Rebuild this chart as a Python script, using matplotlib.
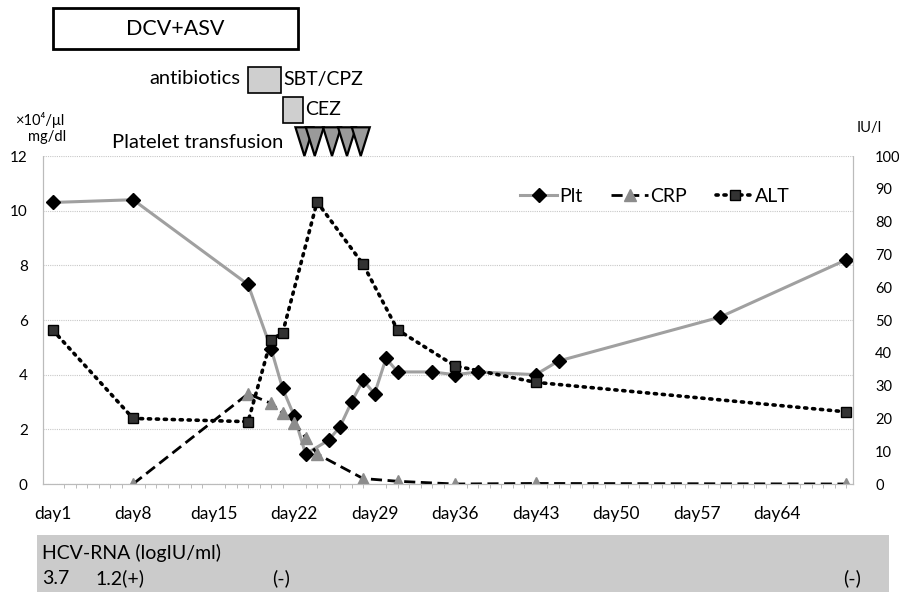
import matplotlib.pyplot as plt
from matplotlib.patches import Rectangle, Polygon

W, H = 899, 592
plt.rcParams['font.family'] = ['Lato', 'DejaVu Sans']

# --- data ---
plt_days = [1, 8, 18, 20, 21, 22, 23, 25, 26, 27, 28, 29, 30, 31, 34, 36, 38, 43, 45, 59, 70]
plt_vals = [10.3, 10.4, 7.3, 4.95, 3.5, 2.5, 1.1, 1.6, 2.1, 3.0, 3.8, 3.3, 4.6, 4.1,
            4.1, 4.0, 4.1, 4.0, 4.5, 6.1, 8.2]

crp_days = [8, 18, 20, 21, 22, 23, 24, 28, 31, 36, 43, 70]
crp_vals = [0.0, 3.3, 2.95, 2.6, 2.25, 1.7, 1.1, 0.2, 0.1, 0.0, 0.02, 0.0]

alt_days = [1, 8, 18, 20, 21, 24, 28, 31, 36, 43, 70]
alt_vals = [47, 20, 19, 44, 46, 86, 67, 47, 36, 31, 22]

day_ticks = [1, 8, 15, 22, 29, 36, 43, 50, 57, 64]
day_labels = ["day%d" % d for d in day_ticks]

# treatments (days)
dcv_period = (1.0, 22.3)
antibiotics = [("SBT/CPZ", 18.0, 20.9), ("CEZ", 21.0, 22.8)]
transfusion_days = [22.9, 23.8, 25.3, 26.6, 27.8]

hcv_title = "HCV-RNA (logIU/ml)"
hcv_labels = ["3.7", "1.2(+)", "(-)", "(-)"]
hcv_xpix = [42, 95, 272, 843]


def fx(x):
    return x / W


def fy(y):
    return 1 - y / H


fig = plt.figure(figsize=(W / 100, H / 100), dpi=100)
ax = fig.add_axes([fx(43), fy(484), fx(853) - fx(43), fy(156) - fy(484)])
ax2 = ax.twinx()

ax.plot(plt_days, plt_vals, color='#a0a0a0', lw=2.2, marker='D', ms=7,
        mfc='black', mec='black', label='Plt', zorder=3)
ax.plot(crp_days, crp_vals, color='black', lw=2, ls=(0, (4, 2)), marker='^', ms=8,
        mfc='#8c8c8c', mec='#8c8c8c', label='CRP', zorder=4)
ax2.plot(alt_days, alt_vals, color='black', lw=2.6, ls=(0, (0.6, 1.6)),
         dash_capstyle='round', marker='s', ms=7, mfc='#333333', mec='black', label='ALT')

ax.set_xlim(0.17, 70.6)
ax.set_ylim(0, 12)
ax2.set_ylim(0, 100)
ax.set_yticks(range(0, 13, 2))
ax2.set_yticks(range(0, 101, 10))
ax.set_xticks(day_ticks)
ax.set_xticklabels(day_labels)
ax.set_xticks(range(1, 71), minor=True)

ax.grid(axis='y', color='#c8c8c8', lw=0.8, ls=(0, (1, 1)))
ax.set_axisbelow(True)

ax.tick_params(axis='x', which='major', length=0, pad=16, labelsize=12.5)
ax.tick_params(axis='x', which='minor', length=3, color='#bbbbbb', width=0.7)
ax.tick_params(axis='y', length=0, pad=11, labelsize=11)
ax2.tick_params(axis='y', length=0, pad=16, labelsize=10.5)

for a in (ax, ax2):
    a.spines['top'].set_visible(False)
    for s in ('left', 'right', 'bottom'):
        a.spines[s].set_color('#bbbbbb')
        a.spines[s].set_linestyle((0, (1, 1)))
        a.spines[s].set_linewidth(0.8)

handles = ax.get_lines() + ax2.get_lines()
ax2.legend(handles=handles, loc='center', bbox_to_anchor=(fx(655), fy(196)),
           bbox_transform=fig.transFigure, ncol=3, frameon=False, fontsize=14,
           handlelength=1.9, handletextpad=0.1, columnspacing=1.5)

# --- treatment annotations above the plot (data x, left-axis y) ---
ax.add_patch(Rectangle((dcv_period[0], 15.9), dcv_period[1] - dcv_period[0], 1.5,
                       fill=False, ec='black', lw=2, clip_on=False))
ax.text(sum(dcv_period) / 2, 16.65, "DCV+ASV", ha='center', va='center',
        fontsize=15.5, clip_on=False)

box_tops = [15.25, 14.15]
for (name, d0, d1), top in zip(antibiotics, box_tops):
    ax.add_patch(Rectangle((d0, top - 0.93), d1 - d0, 0.93, fc='#cfcfcf', ec='black',
                           lw=1.2, clip_on=False))
    ax.text(d1 + 0.2, top - 0.46, name, ha='left', va='center', fontsize=14, clip_on=False)

for d in transfusion_days:
    ax.add_patch(Polygon([(d - 0.78, 13.05), (d + 0.78, 13.05), (d, 12.0)], closed=True,
                         fc='#9a9a9a', ec='black', lw=1.6, clip_on=False))

fig.text(fx(240), fy(79), "antibiotics", ha='right', va='center', fontsize=14.5)
fig.text(fx(283), fy(142), "Platelet transfusion", ha='right', va='center', fontsize=14.5)
fig.text(fx(40), fy(120), "×10⁴/μl", ha='center', va='center', fontsize=10.5)
fig.text(fx(47), fy(137), "mg/dl", ha='center', va='center', fontsize=10.5)
fig.text(fx(869), fy(128), "IU/l", ha='center', va='center', fontsize=10.5)

# --- HCV-RNA panel ---
fig.patches.append(Rectangle((fx(37), 0), fx(889) - fx(37), fy(535), fc='#cbcbcb',
                             ec='none', transform=fig.transFigure, figure=fig))
fig.text(fx(42), fy(553), hcv_title, ha='left', va='center', fontsize=14)
for lab, xp in zip(hcv_labels, hcv_xpix):
    fig.text(fx(xp), fy(578), lab, ha='left', va='center', fontsize=14)

fig.savefig('out.png', dpi=100)
